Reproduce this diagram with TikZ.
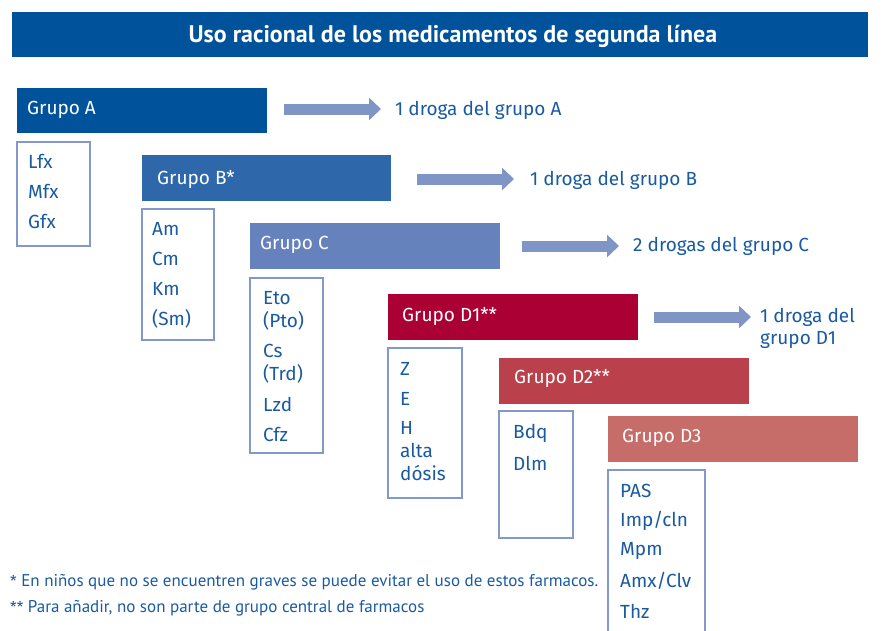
\documentclass[tikz,border=0pt]{standalone}
\usepackage{fontspec}
\setmainfont{Fira Sans}
\newfontfamily\condfont{PT Sans}
\usetikzlibrary{arrows.meta}
\definecolor{cA}{RGB}{0,82,155}
\definecolor{cB}{RGB}{46,103,170}
\definecolor{cC}{RGB}{102,130,188}
\definecolor{cDa}{RGB}{170,0,51}
\definecolor{cDb}{RGB}{186,65,75}
\definecolor{cDc}{RGB}{198,109,106}
\definecolor{carrow}{RGB}{127,149,198}
\definecolor{cborder}{RGB}{131,153,203}
\definecolor{ctext}{RGB}{25,90,160}
\tikzset{
  grplabel/.style={anchor=west, text=white, font=\fontsize{19}{23}\selectfont, inner sep=0pt},
  listbox/.style={draw=cborder, line width=2.5pt, fill=white},
  item/.style={anchor=west, text=ctext, font=\fontsize{19}{23}\selectfont, inner sep=0pt, align=left},
  result/.style={anchor=west, text=ctext, font=\fontsize{19}{22}\selectfont, inner sep=0pt, align=left},
  bigarrow/.style={draw=carrow, line width=11pt, -{Triangle[length=12pt,width=22pt]}},
  note/.style={anchor=west, text=ctext, font=\condfont\fontsize{17}{20}\selectfont, inner sep=0pt}
}
\newcommand{\myast}{{\rmfamily\fontsize{15}{18}\selectfont *}}
\begin{document}
\begin{tikzpicture}[x=1pt,y=-1pt]
\useasboundingbox (0,0) rectangle (883,630);
\clip (0,0) rectangle (883,630);
% title
\fill[cA] (12,12) rectangle (868,57);
\node[text=white, font=\condfont\bfseries\fontsize{24}{26}\selectfont] (title) at (453,36) {Uso racional de los medicamentos de segunda línea};
% Grupo A
\fill[cA] (17,88) rectangle (267,133);
\node[grplabel] (gA) at (27,110) {Grupo A};
\coordinate (aAs) at (284,109);
\coordinate (aAe) at (381,109);
\node[result] (rA) at (395,110) {1 droga del grupo A};
\draw[bigarrow] (aAs) -- (aAe);
\draw[listbox] (17,142) rectangle (90,246);
\node[item] (iA1) at (28,161) {Lfx};
\node[item] (iA2) at (28,191) {Mfx};
\node[item] (iA3) at (28,221) {Gfx};
% Grupo B
\fill[cB] (142,155) rectangle (391,201);
\node[grplabel] (gB) at (157,179) {Grupo B*};
\coordinate (aBs) at (417,179);
\coordinate (aBe) at (514,179);
\node[result] (rB) at (530,180) {1 droga del grupo B};
\draw[bigarrow] (aBs) -- (aBe);
\draw[listbox] (142,209) rectangle (214,340);
\node[item] (iB1) at (152,229) {Am};
\node[item] (iB2) at (152,259) {Cm};
\node[item] (iB3) at (152,289) {Km};
\node[item] (iB4) at (152,319) {(Sm)};
% Grupo C
\fill[cC] (250,223) rectangle (500,269);
\node[grplabel] (gC) at (260,245) {Grupo C};
\coordinate (aCs) at (522,246);
\coordinate (aCe) at (619,246);
\node[result] (rC) at (633,246) {2 drogas del grupo C};
\draw[bigarrow] (aCs) -- (aCe);
\draw[listbox] (250,278) rectangle (323,453);
\node[item] (iC1) at (263,298) {Eto};
\node[item] (iC2) at (263,321) {(Pto)};
\node[item] (iC3) at (263,351) {Cs};
\node[item] (iC4) at (263,374) {(Trd)};
\node[item] (iC5) at (263,404) {Lzd};
\node[item] (iC6) at (263,434) {Cfz};
% Grupo D1
\fill[cDa] (388,294) rectangle (638,340);
\node[grplabel] (gD1) at (402,316) {Grupo D1**};
\coordinate (aDs) at (654,317);
\coordinate (aDe) at (751,317);
\node[result] (rD) at (760,328) {1 droga del\\grupo D1};
\draw[bigarrow] (aDs) -- (aDe);
\draw[listbox] (388,348) rectangle (462,498);
\node[item] (iD1) at (400,369) {Z};
\node[item] (iD2) at (400,399) {E};
\node[item] (iD3) at (400,451) {H\\alta\\dósis};
% Grupo D2
\fill[cDb] (499,358) rectangle (749,404);
\node[grplabel] (gD2) at (514,378) {Grupo D2**};
\draw[listbox] (499,411) rectangle (573,538);
\node[item] (iE1) at (513,433) {Bdq};
\node[item] (iE2) at (513,463) {Dlm};
% Grupo D3
\fill[cDc] (608,416) rectangle (858,462);
\node[grplabel] (gD3) at (622,438) {Grupo D3};
\draw[listbox] (608,470) rectangle (705,645);
\node[item] (iF1) at (620,491) {PAS};
\node[item] (iF2) at (620,521) {Imp/cln};
\node[item] (iF3) at (620,551) {Mpm};
\node[item] (iF4) at (620,581) {Amx/Clv};
\node[item] (iF5) at (620,611) {Thz};
% notes
\node[note] (n1) at (10,582) {\myast{} En niños que no se encuentren graves se puede evitar el uso de estos farmacos.};
\node[note] (n2) at (10,608) {\myast\myast{} Para añadir, no son parte de grupo central de farmacos};
\end{tikzpicture}
\end{document}
